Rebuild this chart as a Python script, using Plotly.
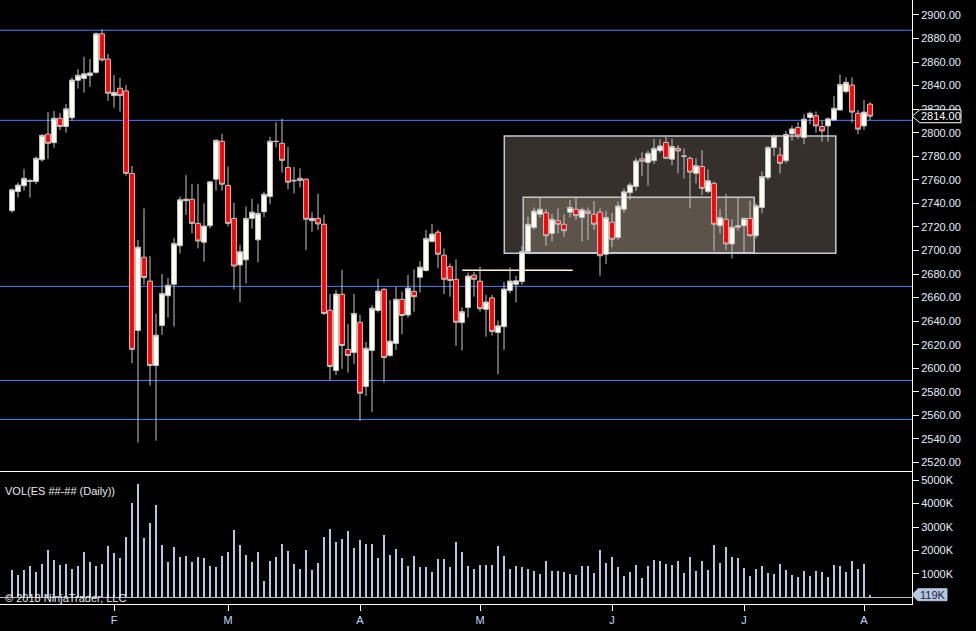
import plotly.graph_objects as go
from plotly.subplots import make_subplots

# daily ES bars, Jan - Aug 2018 (bar index on x)
open_ = [2733.75, 2750.0, 2755.0, 2758.5, 2758.5, 2777.0, 2798.75, 2791.5, 2812.25, 2805.25,
         2812.75, 2844.5, 2846.0, 2848.5, 2851.25, 2884.0, 2862.5, 2831.5, 2837.75, 2835.5,
         2765.5, 2632.0, 2694.25, 2674.0, 2602.25, 2636.25, 2661.5, 2671.25, 2704.0, 2742.25,
         2743.5, 2723.0, 2707.0, 2721.0, 2760.5, 2792.75, 2755.25, 2727.25, 2687.75, 2692.0,
         2727.25, 2709.0, 2732.75, 2745.75, 2792.75, 2791.0, 2770.5, 2759.0, 2761.25, 2760.5,
         2725.25, 2727.25, 2722.25, 2649.25, 2598.0, 2662.75, 2616.0, 2613.25, 2639.0, 2584.5,
         2615.0, 2649.0, 2667.0, 2610.75, 2621.0, 2658.5, 2645.25, 2665.25, 2677.25, 2683.0,
         2707.5, 2715.5, 2696.0, 2686.25, 2675.5, 2638.75, 2651.5, 2679.0, 2674.0, 2650.0,
         2659.75, 2630.25, 2635.25, 2666.0, 2671.25, 2673.5, 2699.0, 2719.5, 2730.75, 2732.0,
         2714.5, 2725.25, 2722.25, 2732.5, 2735.0, 2728.0, 2733.5, 2730.75, 2732.5, 2696.75,
         2724.0, 2711.0, 2735.0, 2749.0, 2754.25, 2777.75, 2774.75, 2776.25, 2784.75, 2791.75,
         2777.5, 2786.75, 2780.25, 2778.25, 2765.5, 2771.25, 2750.0, 2757.0, 2721.0, 2726.5,
         2705.5, 2719.75, 2721.0, 2727.25, 2712.5, 2736.5, 2762.0, 2787.5, 2781.0, 2776.25,
         2799.0, 2804.5, 2796.0, 2813.0, 2814.5, 2805.25, 2805.75, 2810.75, 2819.25, 2835.0,
         2840.5, 2816.5, 2805.75, 2824.25]
high = [2752.5, 2757.5, 2769.25, 2760.5, 2779.75, 2798.75, 2817.5, 2818.5, 2816.5, 2824.5,
        2847.0, 2854.0, 2864.5, 2862.5, 2885.25, 2887.75, 2867.0, 2849.0, 2846.5, 2840.5,
        2771.75, 2709.0, 2735.75, 2695.25, 2646.5, 2680.0, 2676.5, 2710.5, 2745.75, 2764.0,
        2756.5, 2756.5, 2740.0, 2759.0, 2794.5, 2799.0, 2771.25, 2740.5, 2704.75, 2737.25,
        2743.75, 2739.5, 2750.0, 2796.5, 2808.75, 2811.75, 2788.0, 2771.0, 2769.75, 2761.25,
        2732.5, 2748.0, 2730.25, 2663.0, 2666.5, 2683.5, 2637.5, 2663.0, 2645.25, 2622.25,
        2653.75, 2675.75, 2668.0, 2658.0, 2669.25, 2665.0, 2679.25, 2684.0, 2691.0, 2717.5,
        2722.5, 2717.5, 2701.75, 2689.0, 2692.5, 2651.75, 2681.25, 2681.75, 2686.25, 2662.25,
        2662.25, 2640.5, 2673.25, 2685.5, 2678.5, 2703.75, 2728.75, 2736.5, 2745.0, 2735.0,
        2731.0, 2735.75, 2730.75, 2743.0, 2745.0, 2736.5, 2736.5, 2742.0, 2735.75, 2733.75,
        2732.0, 2741.5, 2752.75, 2757.5, 2778.75, 2783.25, 2784.75, 2794.75, 2794.5, 2796.5,
        2794.75, 2789.5, 2786.75, 2779.75, 2778.25, 2785.25, 2769.0, 2758.5, 2735.0, 2748.0,
        2726.5, 2744.75, 2728.0, 2742.25, 2740.0, 2767.0, 2788.75, 2798.5, 2787.5, 2801.5,
        2806.0, 2809.0, 2815.75, 2818.0, 2818.0, 2810.25, 2813.0, 2831.25, 2849.5, 2847.0,
        2847.0, 2819.25, 2827.75, 2826.0]
low = [2732.0, 2745.0, 2750.75, 2745.0, 2756.25, 2775.5, 2777.75, 2787.25, 2802.25, 2800.0,
       2810.25, 2837.5, 2834.0, 2839.0, 2850.0, 2860.5, 2827.0, 2821.25, 2818.0, 2763.5,
       2604.25, 2536.75, 2670.75, 2585.25, 2538.5, 2628.25, 2643.0, 2635.25, 2697.5, 2730.25,
       2714.5, 2701.75, 2690.5, 2718.75, 2750.75, 2750.75, 2720.25, 2667.0, 2655.75, 2672.0,
       2718.5, 2690.0, 2728.25, 2739.25, 2787.5, 2766.0, 2752.0, 2748.5, 2753.5, 2700.5,
       2716.0, 2717.5, 2645.25, 2589.5, 2594.25, 2599.5, 2596.25, 2603.5, 2555.25, 2576.5,
       2562.75, 2647.25, 2587.75, 2609.75, 2615.5, 2629.0, 2643.0, 2648.0, 2664.25, 2682.0,
       2707.0, 2685.0, 2663.0, 2660.75, 2619.0, 2615.0, 2643.0, 2660.75, 2648.0, 2626.75,
       2627.75, 2594.75, 2615.5, 2663.5, 2655.75, 2670.75, 2696.75, 2717.5, 2728.0, 2704.0,
       2707.5, 2714.5, 2711.75, 2728.0, 2726.0, 2707.5, 2709.0, 2717.5, 2678.5, 2688.5,
       2702.75, 2709.0, 2732.0, 2743.0, 2750.5, 2763.25, 2755.0, 2773.5, 2783.0, 2777.5,
       2772.5, 2765.5, 2761.25, 2735.75, 2757.0, 2747.0, 2748.5, 2699.75, 2714.5, 2700.5,
       2693.25, 2716.75, 2698.5, 2711.75, 2710.25, 2731.5, 2759.75, 2780.25, 2765.5, 2774.0,
       2793.25, 2794.75, 2790.25, 2807.25, 2800.0, 2792.5, 2792.5, 2810.25, 2818.75, 2833.5,
       2808.5, 2798.75, 2802.5, 2810.75]
close = [2751.5, 2755.5, 2761.25, 2759.5, 2778.25, 2797.75, 2791.0, 2812.25, 2805.25, 2820.25,
         2844.75, 2848.75, 2850.0, 2850.75, 2884.0, 2861.75, 2833.5, 2834.25, 2831.5, 2765.5,
         2616.0, 2702.75, 2677.0, 2602.25, 2628.0, 2663.5, 2670.5, 2706.0, 2743.0, 2743.5,
         2723.0, 2708.0, 2720.75, 2758.25, 2793.5, 2756.25, 2723.0, 2686.75, 2699.0, 2727.25,
         2732.5, 2731.5, 2747.75, 2792.75, 2792.5, 2776.5, 2758.0, 2759.5, 2759.5, 2726.5,
         2727.25, 2722.5, 2646.5, 2601.5, 2663.0, 2619.25, 2610.75, 2646.5, 2578.75, 2617.0,
         2651.0, 2665.5, 2609.0, 2623.0, 2658.5, 2644.75, 2668.0, 2660.75, 2685.75, 2710.25,
         2714.0, 2696.75, 2675.5, 2674.5, 2639.0, 2648.0, 2678.25, 2675.5, 2650.5, 2656.25,
         2631.25, 2636.0, 2667.25, 2674.0, 2674.25, 2699.0, 2722.25, 2733.5, 2735.0, 2712.5,
         2726.5, 2722.25, 2716.75, 2736.5, 2729.5, 2734.5, 2731.5, 2722.25, 2695.5, 2728.0,
         2709.5, 2737.75, 2749.75, 2755.5, 2776.0, 2775.75, 2782.5, 2786.75, 2788.75, 2778.25,
         2788.25, 2784.5, 2780.0, 2766.5, 2772.0, 2752.75, 2759.25, 2722.25, 2728.0, 2705.5,
         2719.75, 2721.0, 2727.25, 2712.5, 2738.0, 2762.75, 2787.5, 2796.5, 2774.0, 2798.5,
         2803.25, 2797.25, 2811.5, 2816.5, 2805.75, 2801.5, 2811.75, 2820.75, 2841.0, 2842.75,
         2817.5, 2803.0, 2817.5, 2814.0]
# volume in thousands of contracts
volume = [1170, 957, 1170, 1340, 1085, 1425, 2021, 1595, 1383, 1425,
          1212, 1340, 1936, 1510, 1340, 1425, 2191, 1893, 1680, 2574,
          4020, 4828, 2531, 3169, 3935, 2233, 1510, 2148, 1723, 1765,
          1510, 1723, 1680, 1340, 1297, 1765, 1936, 2871, 2233, 1808,
          1510, 1936, 702, 1553, 1723, 2276, 1978, 1425, 1212, 2021,
          1170, 1468, 2574, 2914, 2361, 2489, 2829, 2106, 2446, 2276,
          2276, 1680, 2659, 1808, 2063, 1680, 1340, 1765, 1297, 1297,
          1085, 1638, 1638, 1297, 2361, 1936, 1340, 1212, 1383, 1383,
          1383, 2191, 1765, 1212, 1340, 1297, 1212, 1127, 1000, 1553,
          1127, 1127, 1085, 1000, 957, 1340, 1340, 1042, 2021, 1468,
          1723, 1297, 915, 1085, 1383, 830, 1340, 1595, 1553, 1425,
          1383, 1553, 1042, 1723, 1127, 1553, 1170, 2233, 1468, 2148,
          1723, 1680, 1255, 915, 1212, 1340, 1042, 1000, 1425, 1170,
          957, 872, 1127, 915, 1127, 1085, 872, 1383, 1340, 1085,
          1553, 1212, 1425, 119]

month_pos = [17, 36, 58, 78, 100, 122, 142]
month_labels = ["F", "M", "A", "M", "J", "J", "A"]

# horizontal levels drawn on the chart
levels = [2887.0, 2810.5, 2669.5, 2589.6, 2556.5]
# zones: (x0, x1, y0, y1)
outer_zone = (82.05, 137.3, 2697.6, 2797.2)
inner_zone = (85.2, 123.7, 2698.0, 2745.2)
ray = (75.05, 93.45, 2683.2)

x = list(range(len(close)))
FONT = "Arial, Liberation Sans, sans-serif"

PRICE_DOM = [0.2202, 1]
PRICE_RNG = [2512.7, 2912.7]
VOL_DOM = [0, 0.2185]
VOL_RNG = [-277, 5340]


def to_paper(v, dom, rng):
    return dom[0] + (v - rng[0]) / (rng[1] - rng[0]) * (dom[1] - dom[0])


fig = make_subplots(rows=2, cols=1, shared_xaxes=True, vertical_spacing=0)

fig.add_trace(go.Candlestick(
    x=x, open=open_, high=high, low=low, close=close,
    increasing=dict(fillcolor="#fffff2", line=dict(color="#c4c4c4", width=1)),
    decreasing=dict(fillcolor="#ff0000", line=dict(color="#c4c4c4", width=1)),
    showlegend=False, hoverinfo="skip",
), row=1, col=1)

fig.add_trace(go.Bar(
    x=x, y=volume, width=0.4, marker=dict(color="#b4c6e0", line=dict(width=0)),
    showlegend=False, hoverinfo="skip",
), row=2, col=1)

shapes = []
for lv in levels:
    shapes.append(dict(type="line", xref="paper", yref="y", x0=0, x1=1, y0=lv, y1=lv,
                       line=dict(color="#4f7fff", width=1), layer="below"))
x0, x1, y0, y1 = outer_zone
shapes.append(dict(type="rect", xref="x", yref="y", x0=x0, x1=x1, y0=y0, y1=y1,
                   fillcolor="#35302b", line=dict(color="#c4c8d0", width=1.5), layer="below"))
x0, x1, y0, y1 = inner_zone
shapes.append(dict(type="rect", xref="x", yref="y", x0=x0, x1=x1, y0=y0, y1=y1,
                   fillcolor="#5c544a", line=dict(color="#c4c8d0", width=1.5), layer="below"))
shapes.append(dict(type="line", xref="x", yref="y", x0=ray[0], x1=ray[1], y0=ray[2], y1=ray[2],
                   line=dict(color="#fff4dc", width=1.5), layer="below"))

# last price tag (paper coords so it can sit in the right margin)
last = close[-1]
yc = to_paper(last, PRICE_DOM, PRICE_RNG)
hp = 6.5 / 604
shapes.append(dict(type="path", xref="paper", yref="paper", layer="above",
                   path=f"M 1.0,{yc} L 1.0088,{yc + hp} L 1.0537,{yc + hp} "
                        f"L 1.0537,{yc - hp} L 1.0088,{yc - hp} Z",
                   fillcolor="black", line=dict(color="white", width=1)))
# last volume tag
lastv = volume[-1]
yv = to_paper(lastv, VOL_DOM, VOL_RNG)
hv = 6 / 604
shapes.append(dict(type="path", xref="paper", yref="paper", layer="above",
                   path=f"M 1.0,{yv} L 1.0066,{yv + hv} L 1.0384,{yv + hv} "
                        f"L 1.0384,{yv - hv} L 1.0066,{yv - hv} Z",
                   fillcolor="#b4c6e0", line=dict(color="#b4c6e0", width=1)))

annotations = [
    dict(text=f"{last:.2f}", xref="paper", yref="paper", x=1.0313, y=yc, showarrow=False,
         xanchor="center", yanchor="middle", font=dict(color="white", size=11, family=FONT)),
    dict(text=f"{lastv}K", xref="paper", yref="paper", x=1.0228, y=yv, showarrow=False,
         xanchor="center", yanchor="middle", font=dict(color="#1c1c3c", size=11, family=FONT)),
    dict(text="VOL(ES ##-## (Daily))", xref="paper", yref="paper", x=0.003, y=0.1876,
         xanchor="left", yanchor="middle", showarrow=False,
         font=dict(color="#e8e8e8", size=11, family=FONT)),
    dict(text="© 2018 NinjaTrader, LLC", xref="paper", yref="paper", x=0.003, y=0.0099,
         xanchor="left", yanchor="middle", showarrow=False,
         font=dict(color="#e8e8e8", size=11, family=FONT)),
]

fig.update_layout(
    width=976, height=631,
    margin=dict(l=0, r=64, t=0, b=27, autoexpand=False),
    paper_bgcolor="black", plot_bgcolor="black",
    font=dict(family=FONT, size=11, color="#e6eeff"),
    shapes=shapes, annotations=annotations,
    boxgap=0.15, boxgroupgap=0.05, bargap=0,
    showlegend=False,
)
fig.update_xaxes(range=[-2, 150], showgrid=False, zeroline=False, rangeslider_visible=False)
fig.update_xaxes(showticklabels=False, ticks="", row=1, col=1)
fig.update_xaxes(tickvals=month_pos, ticktext=month_labels, ticks="outside", ticklen=6,
                 tickcolor="white", showline=True, linecolor="white", linewidth=1, mirror=True,
                 tickfont=dict(color="#c0d8ff", size=11), row=2, col=1)
fig.update_yaxes(side="right", showgrid=False, showline=True, linecolor="white",
                 ticks="outside", ticklen=6, tickcolor="white",
                 tickfont=dict(color="#e6eeff", size=11))
fig.update_yaxes(domain=PRICE_DOM, range=PRICE_RNG, dtick=20, tickformat=".2f",
                 zeroline=False, row=1, col=1)
fig.update_yaxes(domain=VOL_DOM, range=VOL_RNG,
                 tickvals=[1000, 2000, 3000, 4000, 5000],
                 ticktext=["1000K", "2000K", "3000K", "4000K", "5000K"],
                 zeroline=True, zerolinecolor="#b8b8b8", zerolinewidth=1, row=2, col=1)

# drop the page's default body margin so the figure sits at the window's corner
fig.write_html("out.html", config={"displayModeBar": False},
               post_script="document.body.style.margin='0';"
                           "document.body.style.background='black';")
